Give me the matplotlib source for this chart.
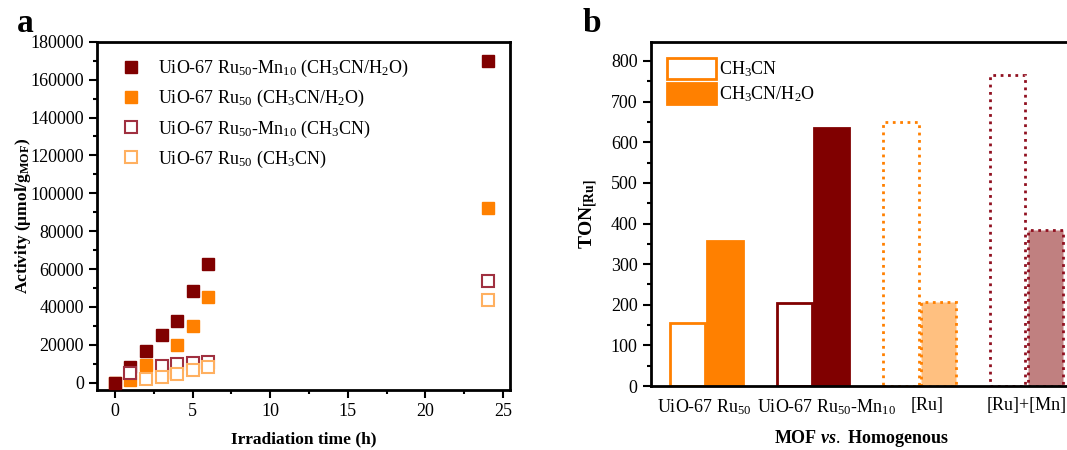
import numpy as np
import matplotlib
matplotlib.use("Agg")
import matplotlib.pyplot as plt
from matplotlib.patches import Patch
from matplotlib.ticker import MultipleLocator

plt.rcParams['font.family'] = ['Liberation Serif', 'DejaVu Serif']
plt.rcParams['mathtext.fontset'] = 'custom'
plt.rcParams['mathtext.rm'] = 'Liberation Serif'
plt.rcParams['mathtext.bf'] = 'Liberation Serif:bold'
plt.rcParams['mathtext.it'] = 'Liberation Serif:italic:bold'
plt.rcParams['mathtext.default'] = 'regular'

# panel a: activity vs irradiation time
t_mn_w = [0, 1, 2, 3, 4, 5, 6, 24]
act_mn_w = [0, 8000, 16500, 25000, 32500, 48500, 62500, 170000]
t_ru_w = [0, 1, 2, 3, 4, 5, 6, 24]
act_ru_w = [0, 1500, 9500, 5000, 20000, 30000, 45000, 92000]
t_mn = [1, 3, 4, 5, 6, 24]
act_mn = [5000, 8500, 10000, 10500, 11000, 53500]
t_ru = [2, 3, 4, 5, 6, 24]
act_ru = [2000, 3000, 4500, 6500, 8000, 43500]

# panel b: TON comparison
groups = ['UiO-67 Ru$_{50}$', 'UiO-67 Ru$_{50}$-Mn$_{10}$', '[Ru]', '[Ru]+[Mn]']
ton_ch3cn = [155, 205, 650, 765]
ton_water = [358, 635, 207, 383]

ORANGE = '#ff8000'
DARKRED = '#800000'
FS = 13

fig = plt.figure(figsize=(10.67, 4.5), dpi=100)

# ---- panel a
ax1 = fig.add_axes([0.091, 0.133, 0.387, 0.774])
ax1.plot(t_mn_w, act_mn_w, 's', ms=9, color=DARKRED, mec=DARKRED,
         label='UiO-67 Ru$_{50}$-Mn$_{10}$ (CH$_3$CN/H$_2$O)', zorder=3)
ax1.plot(t_ru_w, act_ru_w, 's', ms=9, color=ORANGE, mec=ORANGE,
         label='UiO-67 Ru$_{50}$ (CH$_3$CN/H$_2$O)', zorder=2)
ax1.plot(t_mn, act_mn, 's', ms=8, mfc='white', mec='#a03040', mew=1.5,
         label='UiO-67 Ru$_{50}$-Mn$_{10}$ (CH$_3$CN)', zorder=4)
ax1.plot(t_ru, act_ru, 's', ms=8, mfc='white', mec='#ffb060', mew=1.5,
         label='UiO-67 Ru$_{50}$ (CH$_3$CN)', zorder=4)
ax1.set_xlim(-1.15, 25.45)
ax1.set_ylim(-4000, 180000)
ax1.xaxis.set_major_locator(MultipleLocator(5))
ax1.xaxis.set_minor_locator(MultipleLocator(2.5))
ax1.yaxis.set_major_locator(MultipleLocator(20000))
ax1.yaxis.set_minor_locator(MultipleLocator(10000))
ax1.tick_params(which='both', direction='out', labelsize=FS, width=1.5)
ax1.tick_params(which='major', length=6)
ax1.tick_params(which='minor', length=3)
for s in ax1.spines.values():
    s.set_linewidth(2)
ax1.set_xlabel('Irradiation time (h)', fontsize=12.5, fontweight='bold', labelpad=8)
ax1.set_ylabel(r'Activity ($\mathbf{\mu}$mol/g$_{\mathbf{MOF}}$)', fontsize=12.5,
               fontweight='bold', labelpad=-2)
ax1.legend(loc='upper left', frameon=False, fontsize=FS, handletextpad=0.5,
           borderaxespad=0.5, labelspacing=0.5, borderpad=0.4)
fig.text(0.016, 0.93, 'a', fontsize=24, fontweight='bold')

# ---- panel b
ax2 = fig.add_axes([0.610, 0.142, 0.395, 0.765])
x = np.arange(len(groups))
w = 0.33
edge_open = [ORANGE, DARKRED, ORANGE, '#901020']
fill_col = [ORANGE, DARKRED, '#ffc080', '#c08080']
styles = ['-', '-', ':', ':']
for i in range(len(groups)):
    ax2.bar(x[i] - w / 2 - 0.01, ton_ch3cn[i], w, color='white',
            edgecolor=edge_open[i], linewidth=2, linestyle=styles[i])
    ax2.bar(x[i] + w / 2 + 0.01, ton_water[i], w, color=fill_col[i],
            edgecolor=fill_col[i] if styles[i] == '-' else edge_open[i],
            linewidth=2, linestyle=styles[i])
ax2.set_xlim(-0.52, 3.43)
ax2.set_ylim(0, 847)
ax2.set_xticks([-0.02, 1.13, 2.07, 3.0])
ax2.set_xticklabels(groups, fontsize=FS)
ax2.tick_params(axis='x', length=0, pad=8)
ax2.yaxis.set_major_locator(MultipleLocator(100))
ax2.yaxis.set_minor_locator(MultipleLocator(50))
ax2.tick_params(axis='y', which='both', direction='out', labelsize=FS, width=1.5)
ax2.tick_params(axis='y', which='major', length=6)
ax2.tick_params(axis='y', which='minor', length=3)
for s in ax2.spines.values():
    s.set_linewidth(2)
ax2.spines['right'].set_visible(False)
ax2.set_xlabel('MOF $\\mathit{vs.}$ Homogenous', fontsize=13, fontweight='bold',
               labelpad=8)
ax2.set_ylabel(r'TON$_{\mathbf{[Ru]}}$', fontsize=14, fontweight='bold', labelpad=8)
handles = [Patch(facecolor='white', edgecolor=ORANGE, linewidth=2),
           Patch(facecolor=ORANGE, edgecolor=ORANGE, linewidth=2)]
ax2.legend(handles, ['CH$_3$CN', 'CH$_3$CN/H$_2$O'], loc='upper left',
           frameon=False, fontsize=FS, handlelength=2.7, handleheight=1.4,
           handletextpad=0.2, labelspacing=0.2, borderaxespad=0.5)
fig.text(0.546, 0.93, 'b', fontsize=24, fontweight='bold')

fig.savefig('out.png', dpi=100)
